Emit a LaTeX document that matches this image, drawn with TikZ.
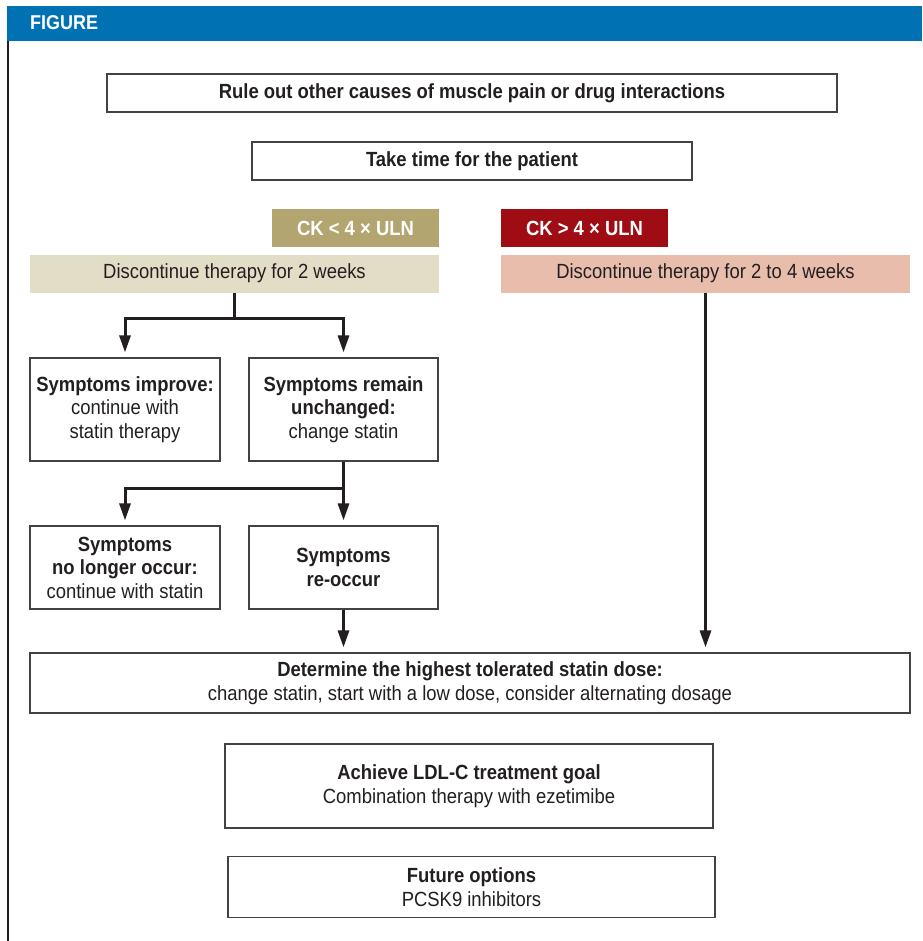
\documentclass[tikz,border=0pt]{standalone}
\usepackage{fontspec}
\setmainfont{Liberation Sans}[FakeStretch=0.9]
\usetikzlibrary{positioning, arrows.meta, calc}
\definecolor{headblue}{RGB}{0, 114, 180}
\definecolor{ckolive}{RGB}{178, 165, 112}
\definecolor{ckoliveL}{RGB}{226, 221, 198}
\definecolor{ckred}{RGB}{160, 12, 20}
\definecolor{ckredL}{RGB}{232, 189, 172}
\definecolor{inkgray}{RGB}{35, 31, 32}
\tikzset{
  blk/.style={draw=inkgray!85, line width=1.2pt, fill=white, align=center,
              text=inkgray, font=\fontsize{20.5}{23.5}\selectfont, inner sep=0pt},
  chip/.style={fill=#1, text=white, font=\fontsize{20.5}{23.5}\selectfont\bfseries,
               inner sep=0pt, minimum width=167, minimum height=37},
  band/.style={fill=#1, text=inkgray, font=\fontsize{20.5}{23.5}\selectfont,
               inner sep=0pt, minimum width=409, minimum height=38},
  arr/.style={-{Triangle[length=17pt, width=11pt]}, line width=3pt,
              draw=inkgray, shorten >=5pt},
  stem/.style={line width=3pt, draw=inkgray},
}

\begin{document}
\begin{tikzpicture}[x=1pt, y=-1pt]
  \useasboundingbox (0,0) rectangle (922,941);
  % frame
  \fill[headblue] (7,6) rectangle (922,41);
  \node[anchor=west, text=white, font=\fontsize{20}{23}\selectfont\bfseries,
    inner sep=0pt] (title) at (30,23) {FIGURE};
  \draw[line width=2.5pt, inkgray] (8,41) -- (8,941);

  \node[blk, minimum width=730, minimum height=38] (rule) at (472,93)
    {\textbf{Rule out other causes of muscle pain or drug interactions}};
  \node[blk, minimum width=440, minimum height=38] (time) at (472,161)
    {\textbf{Take time for the patient}};

  \node[chip=ckolive] (ckless) at (355.5,228) {CK < 4 × ULN};
  \node[chip=ckred] (ckmore) at (584.5,228) {CK > 4 × ULN};
  \node[band=ckoliveL] (disc2) at (234.5,273.5) {Discontinue therapy for 2 weeks};
  \node[band=ckredL] (disc4) at (705.5,273.5) {Discontinue therapy for 2 to 4 weeks};

  \node[blk, minimum width=190, minimum height=103] (improve) at (125,409.5)
    {\textbf{Symptoms improve:}\\continue with\\statin therapy};
  \node[blk, minimum width=189, minimum height=103] (unchanged) at (343.5,409.5)
    {\textbf{Symptoms remain}\\\textbf{unchanged:}\\change statin};
  \node[blk, minimum width=190, minimum height=83] (nolonger) at (125,567.5)
    {\textbf{Symptoms}\\\textbf{no longer occur:}\\continue with statin};
  \node[blk, minimum width=189, minimum height=83] (reoccur) at (343.5,567.5)
    {\textbf{Symptoms}\\\textbf{re-occur}};

  \node[blk, minimum width=880, minimum height=60] (dose) at (470,683)
    {\textbf{Determine the highest tolerated statin dose:}\\
     change statin, start with a low dose, consider alternating dosage};
  \node[blk, minimum width=488, minimum height=84] (goal) at (469,786)
    {\textbf{Achieve LDL-C treatment goal}\\Combination therapy with ezetimibe};
  \node[blk, minimum width=487, minimum height=61] (future) at (471.5,887)
    {\textbf{Future options}\\PCSK9 inhibitors};

  % connectors
  \draw[stem] (disc2.south) -- ++(0,26) coordinate (split1);
  \draw[arr] (split1) -| (improve.north);
  \draw[arr] (split1) -| (unchanged.north);
  \draw[stem] (unchanged.south) -- ++(0,27) coordinate (split2);
  \draw[arr] (split2) -| (nolonger.north);
  \draw[arr] (split2) -- (reoccur.north);
  \draw[arr] (reoccur.south) -- (reoccur.south |- dose.north);
  \draw[arr] (disc4.south) -- (disc4.south |- dose.north);
\end{tikzpicture}
\end{document}
